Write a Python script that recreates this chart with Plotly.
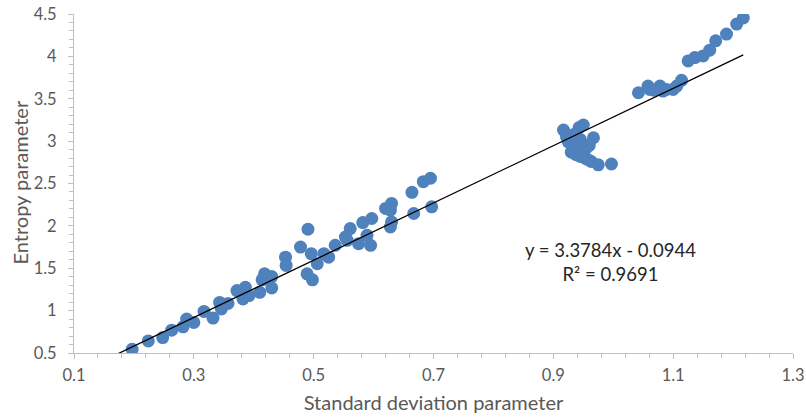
import numpy as np
import plotly.graph_objects as go

# Data
std_dev = [
    0.197, 0.224, 0.248, 0.263, 0.282, 0.288, 0.300, 0.317, 0.332, 0.343,
    0.346, 0.357, 0.372, 0.386, 0.382, 0.392, 0.410, 0.414, 0.418, 0.430,
    0.430, 0.453, 0.454,
    0.4905, 0.478, 0.496, 0.489, 0.498, 0.506, 0.517, 0.525, 0.536, 0.553,
    0.561, 0.556, 0.575, 0.582, 0.589, 0.597, 0.595, 0.620, 0.630, 0.628,
    0.630, 0.628, 0.664, 0.667, 0.683, 0.695, 0.697,
    0.917, 0.922, 0.943, 0.950, 0.967, 0.925, 0.933, 0.938, 0.945, 0.955,
    0.930, 0.953, 0.963, 0.975, 0.997, 0.940, 0.948, 0.958, 0.935, 0.945,
    0.960,
    1.042, 1.058, 1.061, 1.078, 1.089, 1.100, 1.106, 1.114, 1.125, 1.136,
    1.150, 1.161, 1.171, 1.189, 1.206, 1.217, 1.068, 1.083,
]
entropy = [
    0.544, 0.642, 0.682, 0.769, 0.809, 0.900, 0.860, 0.990, 0.912, 1.097,
    1.019, 1.085, 1.236, 1.275, 1.137, 1.177, 1.216, 1.363, 1.434, 1.402,
    1.268, 1.631, 1.533,
    1.960, 1.750, 1.672, 1.434, 1.363, 1.553, 1.672, 1.631, 1.770, 1.869,
    1.968, 1.829, 1.790, 2.039, 1.889, 2.087, 1.770, 2.206, 2.265, 2.185,
    2.047, 1.987, 2.396, 2.146, 2.521, 2.562, 2.225,
    3.130, 3.050, 3.160, 3.190, 3.040, 2.990, 2.930, 2.840, 3.020, 2.920,
    2.870, 2.800, 2.760, 2.720, 2.730, 2.960, 2.880, 2.780, 3.080, 2.820,
    2.950,
    3.571, 3.649, 3.610, 3.649, 3.610, 3.610, 3.649, 3.717, 3.946, 3.986,
    4.005, 4.073, 4.183, 4.263, 4.381, 4.453, 3.600, 3.590,
]

slope = 3.3784
intercept = -0.0944
r_squared = 0.9691

x_ticks = [0.1, 0.3, 0.5, 0.7, 0.9, 1.1, 1.3]
y_ticks = [0.5, 1, 1.5, 2, 2.5, 3, 3.5, 4, 4.5]

font_family = "Lato, 'Open Sans', sans-serif"
grey = "#595959"
axis_col = "#BFBFBF"

fig = go.Figure()
fig.add_trace(go.Scatter(
    x=std_dev, y=entropy, mode="markers",
    marker=dict(color="#4F81BD", size=13, line=dict(width=0)),
    showlegend=False, hoverinfo="x+y",
))

trend_x = np.array([0.165, max(std_dev)])
trend_y = slope * trend_x + intercept
fig.add_trace(go.Scatter(
    x=trend_x, y=trend_y, mode="lines",
    line=dict(color="black", width=1.3),
    showlegend=False, hoverinfo="skip",
))

fig.add_annotation(
    x=0.995, y=1.575, xref="x", yref="y",
    text=f"y = {slope}x - {abs(intercept)}<br>R² = {r_squared}",
    showarrow=False, align="center",
    font=dict(family=font_family, size=18.5, color="#262626"),
)

# y-axis title placed as a rotated annotation for exact positioning
fig.add_annotation(
    x=0, y=0.5, xref="paper", yref="paper",
    xanchor="center", yanchor="middle", xshift=-55, yshift=1,
    text="Entropy parameter", textangle=-90, showarrow=False,
    font=dict(family=font_family, size=20, color=grey),
)

fig.update_layout(
    width=806, height=420,
    margin=dict(l=74, r=13, t=14, b=67, autoexpand=False),
    paper_bgcolor="white", plot_bgcolor="white",
    font=dict(family=font_family, color=grey),
    xaxis=dict(
        range=[0.1, 1.3], tickmode="array", tickvals=x_ticks,
        ticktext=[f"{v:g}" for v in x_ticks],
        showgrid=False, zeroline=False, automargin=False,
        showline=True, linecolor=axis_col, linewidth=1,
        ticks="outside", ticklen=5, tickcolor=axis_col,
        ticklabelstandoff=2,
        minor=dict(tick0=0.1, dtick=0.04, ticks="outside", ticklen=4,
                   tickcolor=axis_col, showgrid=False),
        tickfont=dict(size=16.5, color=grey),
        title=dict(text="Standard deviation parameter",
                   font=dict(size=20, color=grey), standoff=12),
    ),
    yaxis=dict(
        range=[0.5, 4.5], tickmode="array", tickvals=y_ticks,
        ticktext=[f"{v:g}" for v in y_ticks],
        showgrid=False, zeroline=False, automargin=False,
        showline=True, linecolor=axis_col, linewidth=1,
        ticks="outside", ticklen=5, tickcolor=axis_col,
        ticklabelstandoff=8,
        minor=dict(tick0=0.5, dtick=0.1, ticks="outside", ticklen=4,
                   tickcolor=axis_col, showgrid=False),
        tickfont=dict(size=16.5, color=grey),
    ),
)

fig.write_html(
    "out.html",
    config={"displayModeBar": False},
    post_script="document.body.style.margin='0';document.body.style.overflow='hidden';",
)
